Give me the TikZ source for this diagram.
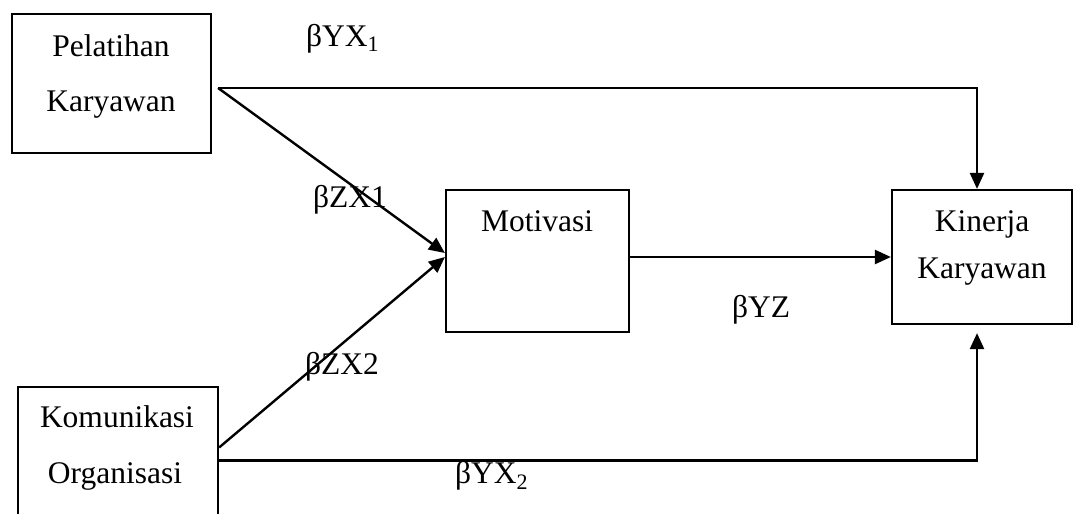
\documentclass[tikz,border=0pt]{standalone}
\usepackage{fontspec}
\setmainfont{Liberation Serif}
\usetikzlibrary{arrows.meta}
\begin{document}
\begin{tikzpicture}[x=1pt,y=-1pt,
  box/.style={draw,line width=2.2pt,inner sep=0pt,outer sep=1.1pt},
  txt/.style={font=\fontsize{31.5}{37}\selectfont,anchor=base,inner sep=0pt},
  lbl/.style={txt,anchor=base west},
  arr/.style={line width=2.4pt,-{Triangle[length=16pt,width=14pt]}},
  ln/.style={line width=2.4pt}]
\clip (0,0) rectangle (1074,514);
\fill[white] (0,0) rectangle (1074,514);
% boxes
\node[box,minimum width=199pt,minimum height=139pt] (P) at (111.5,83.5) {};
\node[box,minimum width=183pt,minimum height=142pt] (M) at (537.5,261) {};
\node[box,minimum width=180pt,minimum height=134pt] (K) at (982,257) {};
\node[box,minimum width=200pt,minimum height=146pt] (C) at (118,460) {};
% box texts
\node[txt] (p1) at (111,56) {Pelatihan};
\node[txt] (p2) at (111,111) {Karyawan};
\node[txt] (m1) at (537,231) {Motivasi};
\node[txt] (k1) at (982,231) {Kinerja};
\node[txt] (k2) at (982,278) {Karyawan};
\node[txt] (c1) at (117,427) {Komunikasi};
\node[txt] (c2) at (115,483) {Organisasi};
% labels
\node[lbl] (l1) at (306,46) {βYX\textsubscript{1}};
\node[lbl] (l2) at (313,207) {βZX1};
\node[lbl] (l3) at (305,374) {βZX2};
\node[lbl] (l4) at (732,317) {βYZ};
\node[lbl] (l5) at (455,483) {βYX\textsubscript{2}};
% connectors
\coordinate (pout) at ([xshift=6pt,yshift=-4.5pt]P.east);
\draw[arr] (pout) -| ([xshift=-5pt]K.north);
\draw[arr] (pout) -- ([yshift=8pt]M.west);
\draw[arr] ([yshift=12.5pt]C.east) -- ([yshift=4pt]M.west);
\draw[arr] ([yshift=4pt]M.east) -- (K.west);
\draw[arr] ([yshift=-0.5pt]C.east) -| ([xshift=-5pt,yshift=-8pt]K.south);
\end{tikzpicture}
\end{document}
